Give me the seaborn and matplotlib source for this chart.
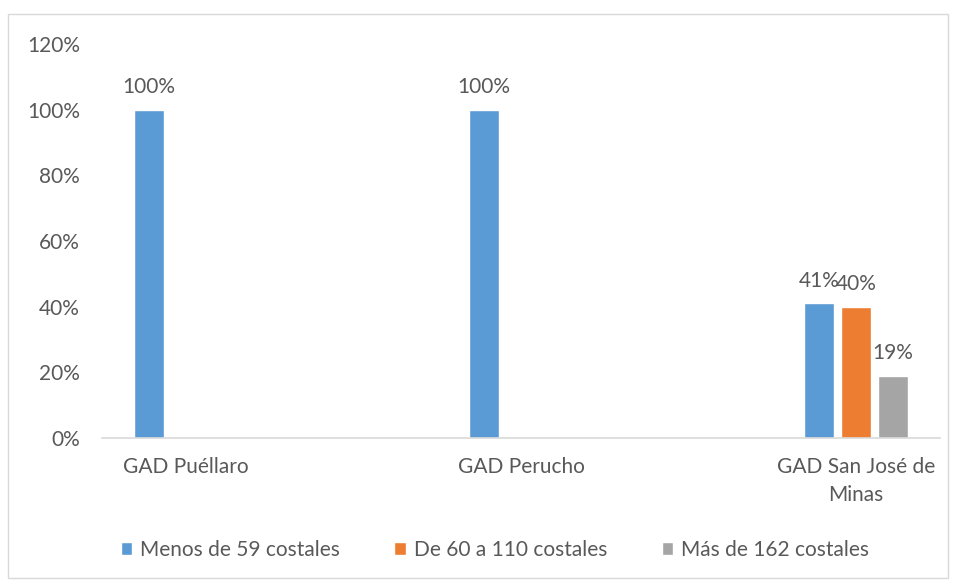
import matplotlib
matplotlib.use("Agg")
import matplotlib.pyplot as plt
import seaborn as sns
import numpy as np
import pandas as pd
from matplotlib.patches import Rectangle

# datos
categorias = ["GAD Puéllaro", "GAD Perucho", "GAD San José de\nMinas"]
series = ["Menos de 59 costales", "De 60 a 110 costales", "Más de 162 costales"]
menos_59 = [1.00, 1.00, 0.41]
de_60_110 = [np.nan, np.nan, 0.40]
mas_162 = [np.nan, np.nan, 0.19]
colores = ["#5B9BD5", "#ED7D31", "#A5A5A5"]
yticks = [0, 0.2, 0.4, 0.6, 0.8, 1.0, 1.2]

df = pd.DataFrame({
    "categoria": categorias * 3,
    "serie": [series[0]] * 3 + [series[1]] * 3 + [series[2]] * 3,
    "valor": menos_59 + de_60_110 + mas_162,
})

sns.set_style("white")
plt.rcParams["font.family"] = ["Lato", "DejaVu Sans"]
texto = "#595959"
fs = 15

fig = plt.figure(figsize=(9.56, 5.81), dpi=100)
ax = fig.add_axes([102 / 956, 143 / 581, 838 / 956, 394 / 581])

sns.barplot(
    data=df, x="categoria", y="valor", hue="serie", order=categorias,
    hue_order=series, palette=colores, width=0.33, gap=0.19,
    saturation=1, ax=ax, legend=True,
)

for cont in ax.containers:
    etiquetas = ["" if np.isnan(v) else f"{v:.0%}" for v in cont.datavalues]
    ax.bar_label(cont, labels=etiquetas, padding=9, fontsize=fs, color=texto)

ax.set_xlim(-0.25, 2.25)
ax.set_ylim(0, 1.2)
ax.set_yticks(yticks)
ax.set_yticklabels([f"{v:.0%}" for v in yticks])
ax.set_xticks(range(len(categorias)))
ax.set_xticklabels(categorias, linespacing=1.45)
ax.set_xlabel("")
ax.set_ylabel("")
ax.tick_params(axis="both", length=0, labelsize=fs, colors=texto)
ax.tick_params(axis="y", pad=16)
ax.tick_params(axis="x", pad=14)
for lado in ["left", "right", "top"]:
    ax.spines[lado].set_visible(False)
ax.spines["bottom"].set_color("#D9D9D9")
ax.spines["bottom"].set_linewidth(1.2)

handles, labels = ax.get_legend_handles_labels()
ax.legend_.remove()
fig.legend(
    handles, labels, loc="center", bbox_to_anchor=(495 / 956, 1 - 550 / 581),
    ncol=3, frameon=False, fontsize=fs, labelcolor=texto,
    handlelength=0.55, handleheight=0.55, handletextpad=0.4, columnspacing=2.6,
)

# borde del gráfico
fig.patches.append(Rectangle(
    (8 / 956, 3 / 581), 940 / 956, 564 / 581, transform=fig.transFigure,
    fill=False, edgecolor="#D9D9D9", linewidth=1,
))

fig.savefig("out.png", dpi=100, facecolor="white")
